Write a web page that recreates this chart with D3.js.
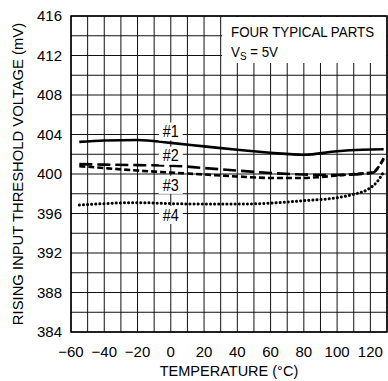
<!DOCTYPE html>
<html>
<head>
<meta charset="utf-8">
<script src="https://cdn.jsdelivr.net/npm/d3@7"></script>
<style>
  body { margin: 0; background: #fff; }
  text { font-family: "Liberation Sans", Arial, sans-serif; fill: #000; }
</style>
</head>
<body>
<svg width="388" height="381"></svg>
<script>
// temperature (°C) and threshold (mV) for each of the four parts
var temps1 = [-55, -40, -20, 0, 20, 40, 60, 80, 100, 115, 128];
var part1 = [403.25, 403.4, 403.45, 403.15, 402.8, 402.45, 402.15, 401.95, 402.3, 402.45, 402.5];

var temps2 = [-55, -40, -20, 0, 20, 40, 60, 80, 100, 110, 121, 128];
var part2 = [401.0, 400.95, 400.9, 400.85, 400.6, 400.35, 400.1, 399.95, 399.9, 399.95, 400.1, 401.6];

var temps3 = [-55, -40, -20, 0, 20, 40, 60, 80, 90, 100, 110, 121, 128];
var part3 = [400.8, 400.6, 400.35, 400.15, 399.95, 399.75, 399.6, 399.6, 399.7, 399.85, 400.0, 400.15, 401.5];

var temps4 = [-55, -40, -20, 0, 20, 40, 60, 80, 100, 110, 118, 124, 128];
var part4 = [396.85, 397.0, 397.1, 397.0, 396.95, 396.95, 397.05, 397.3, 397.6, 397.95, 398.4, 399.2, 400.2];

var labelNames = ["#1", "#2", "#3", "#4"];
var labelValues = [404.3, 401.85, 398.9, 395.85];
var xTicks = [-60, -40, -20, 0, 20, 40, 60, 80, 100, 120];
var yTicks = [384, 388, 392, 396, 400, 404, 408, 412, 416];

var svg = d3.select("svg");
var pLeft = 71, pRight = 387, pTop = 16, pBottom = 332;

var x = d3.scaleLinear().domain([-60, 130]).range([pLeft, pRight]);
var y = d3.scaleLinear().domain([384, 416]).range([pBottom, pTop]);

// grid
var grid = svg.append("g").attr("stroke", "#111").attr("stroke-width", 1);
grid.selectAll(".v").data(d3.range(-60, 131, 10)).enter().append("line")
  .attr("x1", function(d) { return x(d); }).attr("x2", function(d) { return x(d); })
  .attr("y1", pTop).attr("y2", pBottom);
grid.selectAll(".h").data(d3.range(384, 417, 2)).enter().append("line")
  .attr("x1", pLeft).attr("x2", pRight)
  .attr("y1", function(d) { return y(d); }).attr("y2", function(d) { return y(d); });

svg.append("rect").attr("x", pLeft).attr("y", pTop)
  .attr("width", pRight - pLeft).attr("height", pBottom - pTop)
  .attr("fill", "none").attr("stroke", "#000").attr("stroke-width", 1.5);

// tick labels
svg.selectAll(".yt").data(yTicks).enter().append("text")
  .attr("x", 62).attr("y", function(d) { return y(d); })
  .attr("dy", "0.36em").attr("text-anchor", "end")
  .attr("font-size", 15).text(function(d) { return d; });

svg.selectAll(".xt").data(xTicks).enter().append("text")
  .attr("x", function(d) { return x(d); }).attr("y", 352)
  .attr("dy", "0.36em").attr("text-anchor", "middle")
  .attr("font-size", 15).text(function(d) { return d < 0 ? "\u2212" + (-d) : d; });

svg.append("text").attr("x", 229).attr("y", 371).attr("dy", "0.36em")
  .attr("text-anchor", "middle").attr("font-size", 14.5)
  .text("TEMPERATURE (\u00B0C)");

svg.append("text").attr("transform", "translate(18,174) rotate(-90)")
  .attr("dy", "0.36em").attr("text-anchor", "middle").attr("font-size", 14.8)
  .text("RISING INPUT THRESHOLD VOLTAGE (mV)");

// legend note (narrowed a bit to look like the condensed face)
svg.append("rect").attr("x", 222).attr("y", pTop + 1).attr("width", pRight - 222 - 1).attr("height", 46).attr("fill", "#fff");
svg.append("text").attr("transform", "translate(231,37) scale(0.86,1)")
  .attr("font-size", 15.5).text("FOUR TYPICAL PARTS");
var vs = svg.append("text").attr("transform", "translate(231,57) scale(0.86,1)").attr("font-size", 15.5);
vs.append("tspan").text("V");
vs.append("tspan").attr("font-size", 11.5).attr("dy", 3).text("S");
vs.append("tspan").attr("dy", -3).text(" = 5V");

// curves
var line = d3.line().curve(d3.curveMonotoneX)
  .x(function(d) { return x(d[0]); }).y(function(d) { return y(d[1]); });

var series = [
  { t: temps1, v: part1, dash: null, cap: "butt" },
  { t: temps2, v: part2, dash: "13,5", cap: "butt" },
  { t: temps3, v: part3, dash: "6,3", cap: "butt" },
  { t: temps4, v: part4, dash: "0.1,4", cap: "round" }
];

series.forEach(function(s) {
  svg.append("path")
    .datum(d3.zip(s.t, s.v))
    .attr("d", line)
    .attr("fill", "none").attr("stroke", "#000")
    .attr("stroke-width", s.cap == "round" ? 3 : 2.6)
    .attr("stroke-linecap", s.cap)
    .attr("stroke-dasharray", s.dash);
});

// curve labels
labelNames.forEach(function(name, i) {
  var cy = y(labelValues[i]);
  svg.append("rect").attr("x", x(0) - 12).attr("y", cy - 9).attr("width", 24).attr("height", 18).attr("fill", "#fff");
  svg.append("text").attr("transform", "translate(" + x(0) + "," + cy + ") scale(0.9,1)")
    .attr("dy", "0.36em").attr("text-anchor", "middle").attr("font-size", 16).text(name);
});
</script>
</body>
</html>
